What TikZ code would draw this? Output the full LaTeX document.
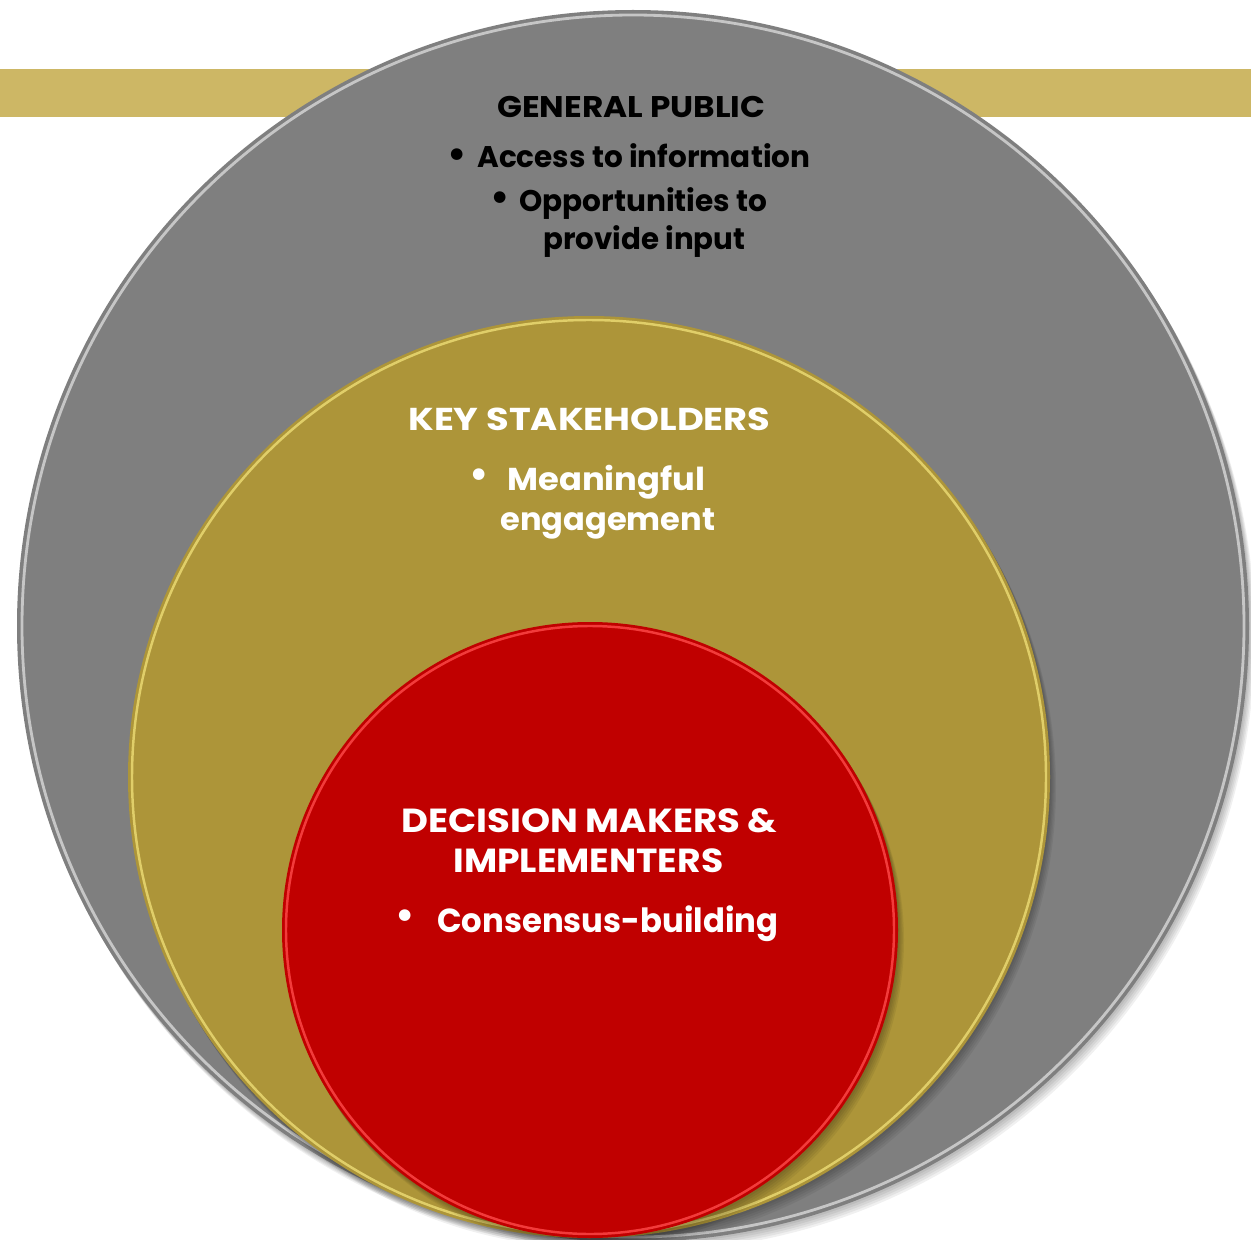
\documentclass[tikz,border=0pt]{standalone}
\usepackage{fontspec}
\usepackage{graphicx}
\setmainfont{Poppins}
\newlength\pxu
\setlength\pxu{0.02cm}
% one line of text squeezed horizontally to a given width (in px units)
\newcommand\fitline[2]{\resizebox{#1\pxu}{\height}{#2}}

\definecolor{bandgold}{HTML}{CDB765}
\definecolor{pubgray}{HTML}{7F7F7F}
\definecolor{pubrim}{HTML}{D8D8D8}
\definecolor{stakegold}{HTML}{AD9539}
\definecolor{stakerim}{HTML}{F2E27A}
\definecolor{decred}{HTML}{C00000}
\definecolor{decrim}{HTML}{FF4A4A}

\begin{document}
\begin{tikzpicture}[x=0.02cm,y=-0.02cm,
  darktext/.style={anchor=base west, inner sep=0pt, text=black,
    font=\fontsize{17}{20}\selectfont\bfseries},
  stakefont/.style={anchor=base west, inner sep=0pt, text=white,
    font=\fontsize{18}{21}\selectfont\bfseries},
  decfont/.style={anchor=base west, inner sep=0pt, text=white,
    font=\fontsize{19}{22}\selectfont\bfseries},
  dot/.style={anchor=center, inner sep=0pt, font=\fontsize{22}{24}\selectfont\bfseries},
  ringshadow/.style={fill=black, opacity=0.06},
]
\useasboundingbox (0,0) rectangle (1251,1240);
\clip (0,0) rectangle (1251,1240);

% decorative band behind the rings
\fill[bandgold] (0,69) rectangle (1251,117);

% outer ring: general public
\foreach \s in {2,4,6,8,10}
  \fill[ringshadow] (633+\s*0.6,626+\s) circle[radius=616];
\fill[pubgray] (633,626) circle[radius=616];
\draw[pubrim, line width=1.6pt, opacity=0.8] (633,626) circle[radius=611];
\node[circle, minimum size=1232*0.02cm, inner sep=0pt] (public) at (633,626) {};

% middle ring: key stakeholders
\foreach \s in {2,4,6,8,10}
  \fill[ringshadow] (589+\s*0.6,777+\s) circle[radius=461];
\fill[stakegold] (589,777) circle[radius=461];
\draw[stakerim, line width=1.4pt, opacity=0.75] (589,777) circle[radius=457];
\node[circle, minimum size=922*0.02cm, inner sep=0pt] (stake) at (589,777) {};

% inner ring: decision makers
\foreach \s in {2,4,6,8,10}
  \fill[ringshadow] (590+\s*0.6,930+\s) circle[radius=308];
\fill[decred] (590,930) circle[radius=308];
\draw[decrim, line width=1.4pt, opacity=0.8] (590,930) circle[radius=304];
\node[circle, minimum size=616*0.02cm, inner sep=0pt] (decision) at (590,930) {};

% general public text
\node[darktext] (gptitle) at (497,118) {\fitline{268}{GENERAL PUBLIC}};
\node[dot, text=black] (gpb1) at (457,158) {\textbullet};
\node[darktext] (gpl1) at (477,168) {\fitline{333}{Access to information}};
\node[dot, text=black] (gpb2) at (500,201) {\textbullet};
\node[darktext] (gpl2) at (519,212) {\fitline{248}{Opportunities to}};
\node[darktext] (gpl3) at (543,250) {\fitline{202}{provide input}};

% key stakeholders text
\node[stakefont] (kstitle) at (408,430) {\fitline{362}{KEY STAKEHOLDERS}};
\node[dot, text=white] (ksb1) at (479,478) {\textbullet};
\node[stakefont] (ksl1) at (507,490) {\fitline{198}{Meaningful}};
\node[stakefont] (ksl2) at (500,530) {\fitline{215}{engagement}};

% decision makers text
\node[decfont] (dmtitle1) at (401,832) {\fitline{376}{DECISION MAKERS \&}};
\node[decfont] (dmtitle2) at (453,872) {\fitline{270}{IMPLEMENTERS}};
\node[dot, text=white] (dmb1) at (405,919) {\textbullet};
\node[decfont] (dml1) at (437,932) {\fitline{341}{Consensus-building}};
\end{tikzpicture}
\end{document}
